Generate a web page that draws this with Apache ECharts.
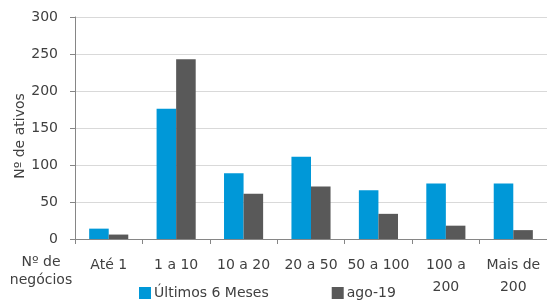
<!DOCTYPE html>
<html>
<head>
<meta charset="utf-8">
<script src="https://cdn.jsdelivr.net/npm/echarts@6/dist/echarts.min.js"></script>
</head>
<body style="margin:0">
<div id="container" style="width:547px;height:308px"></div>
<script>
var categories = ['Até 1', '1 a 10', '10 a 20', '20 a 50', '50 a 100', '100 a\n200', 'Mais de\n200'];
var ultimos6Meses = [14, 176, 89, 111, 66, 75, 75];
var ago19 = [6, 243, 61, 71, 34, 18, 12];
var yTicks = [0, 50, 100, 150, 200, 250, 300];

var font = 'DejaVu Sans';
var txt = '#404040';
var myChart = echarts.init(document.getElementById('container'));
var option = {
    animation: false,
    color: ['#0098D8', '#595959'],
    grid: { left: 75, right: 0, top: 17, bottom: 69, outerBoundsMode: 'none' },
    legend: {
        data: ['Últimos 6 Meses', 'ago-19'],
        left: 134, bottom: 3,
        itemWidth: 12, itemHeight: 12, itemGap: 63,
        icon: 'rect',
        textStyle: { fontFamily: font, fontSize: 14, color: txt, padding: [0, 0, 0, -2] }
    },
    graphic: [{
        type: 'text', x: 41, y: 271,
        style: { text: 'Nº de\nnegócios', font: '14px "DejaVu Sans"', fill: txt, lineHeight: 18, align: 'center', verticalAlign: 'middle' }
    }],
    xAxis: {
        type: 'category',
        data: categories,
        axisLine: { lineStyle: { color: '#868686' } },
        axisTick: { show: true, length: 5, lineStyle: { color: '#868686' } },
        axisLabel: { fontFamily: font, fontSize: 14, color: txt, margin: 15, lineHeight: 22, interval: 0 }
    },
    yAxis: {
        type: 'value',
        min: yTicks[0], max: yTicks[yTicks.length - 1], interval: 50,
        name: 'Nº de ativos',
        nameLocation: 'middle', nameGap: 48, nameMoveOverlap: false,
        nameTextStyle: { fontFamily: font, fontSize: 14, color: txt, padding: [0, 16, 0, 0] },
        axisLine: { show: true, lineStyle: { color: '#868686' } },
        axisTick: { show: true, length: 5, lineStyle: { color: '#868686' } },
        axisLabel: { fontFamily: font, fontSize: 14, color: txt, margin: 17 },
        splitLine: { lineStyle: { color: '#d9d9d9' } }
    },
    series: [
        { name: 'Últimos 6 Meses', type: 'bar', data: ultimos6Meses, barGap: '0%', barCategoryGap: '42%' },
        { name: 'ago-19', type: 'bar', data: ago19 }
    ]
};
myChart.setOption(option);
</script>
</body>
</html>
